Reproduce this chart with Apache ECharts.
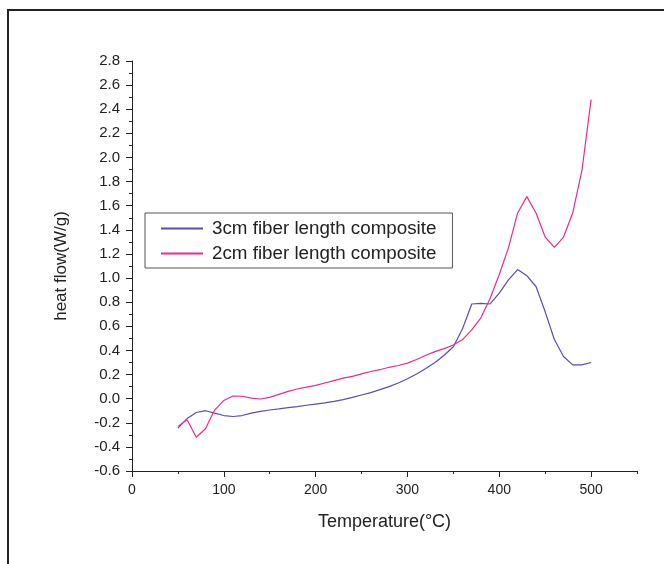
<!DOCTYPE html>
<html>
<head>
<meta charset="utf-8">
<script src="https://cdn.jsdelivr.net/npm/echarts@6/dist/echarts.min.js"></script>
<style>html,body{margin:0;padding:0;background:#fff}#c{width:664px;height:564px}</style>
</head>
<body>
<div id="c"></div>
<script>
const temperature = [50,60,70,80,90,100,110,120,130,140,150,160,170,180,190,200,210,220,230,240,250,260,270,280,290,300,310,320,330,340,350,360,370,380,390,400,410,420,430,440,450,460,470,480,490,500];
const fiber3cm = [-0.245,-0.165,-0.115,-0.10,-0.12,-0.14,-0.148,-0.14,-0.12,-0.105,-0.094,-0.085,-0.075,-0.066,-0.055,-0.045,-0.035,-0.022,-0.008,0.01,0.03,0.05,0.075,0.10,0.13,0.165,0.205,0.25,0.30,0.36,0.43,0.58,0.785,0.79,0.785,0.875,0.985,1.07,1.02,0.93,0.72,0.49,0.35,0.28,0.28,0.30];
const fiber2cm = [-0.23,-0.175,-0.32,-0.25,-0.095,-0.015,0.022,0.02,0.005,-0.003,0.01,0.035,0.06,0.08,0.095,0.11,0.13,0.15,0.17,0.185,0.205,0.225,0.24,0.26,0.275,0.295,0.325,0.36,0.39,0.415,0.445,0.49,0.57,0.67,0.83,1.03,1.25,1.54,1.675,1.54,1.34,1.255,1.34,1.54,1.89,2.48];
const seriesNames = ['3cm fiber length composite','2cm fiber length composite'];
const xTickLabels = [0,100,200,300,400,500];

const chart = echarts.init(document.getElementById('c'), null, {renderer:'canvas'});
const font = 'Liberation Sans, Arial, sans-serif';
const axisColor = '#222';
chart.setOption({
  animation:false,
  backgroundColor:'#fff',
  graphic:[{type:'rect', shape:{x:8,y:10,width:700,height:600}, style:{fill:'none', stroke:'#222', lineWidth:2}, silent:true}],
  grid:{left:132, right:27, top:61, bottom:93},
  legend:{
    left:145, top:213, orient:'vertical', itemWidth:42, itemHeight:2, itemGap:6,
    padding:[6,16,5,16], borderColor:'#555', borderWidth:1, backgroundColor:'#fff',
    icon:'rect',
    textStyle:{fontFamily:font, fontSize:18.8, color:'#222', padding:[0,0,0,4]},
    data:seriesNames
  },
  xAxis:[{
    type:'value', min:0, max:550,
    name:'Temperature(°C)', nameLocation:'middle', nameGap:42,
    nameTextStyle:{fontFamily:font, fontSize:18, color:'#222'},
    axisLine:{show:true, onZero:false, lineStyle:{color:axisColor, width:1}},
    axisTick:{show:true, length:6, customValues:xTickLabels, lineStyle:{color:axisColor}},
    axisLabel:{customValues:xTickLabels, fontFamily:font, fontSize:14, color:'#222', margin:12},
    splitLine:{show:false}
  },{
    type:'value', min:0, max:550, interval:50, position:'bottom',
    axisLine:{show:false, onZero:false}, axisLabel:{show:false},
    axisTick:{show:true, length:3, lineStyle:{color:axisColor}},
    splitLine:{show:false}
  }],
  yAxis:{
    type:'value', min:-0.6, max:2.8, interval:0.2,
    name:'heat flow(W/g)', nameLocation:'middle', nameGap:62,
    nameTextStyle:{fontFamily:font, fontSize:17, color:'#222'},
    axisLine:{show:true, onZero:false, lineStyle:{color:axisColor, width:1}},
    axisTick:{show:true, length:6, lineStyle:{color:axisColor}},
    minorTick:{show:true, splitNumber:2, length:3, lineStyle:{color:axisColor}},
    axisLabel:{fontFamily:font, fontSize:15, color:'#222', margin:12, formatter:v=>v.toFixed(1)},
    splitLine:{show:false}, minorSplitLine:{show:false}
  },
  series:[
    {name:seriesNames[0], type:'line', data:temperature.map((t,i)=>[t,fiber3cm[i]]), showSymbol:false, symbol:'none', lineStyle:{color:'#5a4db0', width:1.2}, itemStyle:{color:'#5a4db0'}},
    {name:seriesNames[1], type:'line', data:temperature.map((t,i)=>[t,fiber2cm[i]]), showSymbol:false, symbol:'none', lineStyle:{color:'#f0288a', width:1.2}, itemStyle:{color:'#f0288a'}}
  ]
});
</script>
</body>
</html>
